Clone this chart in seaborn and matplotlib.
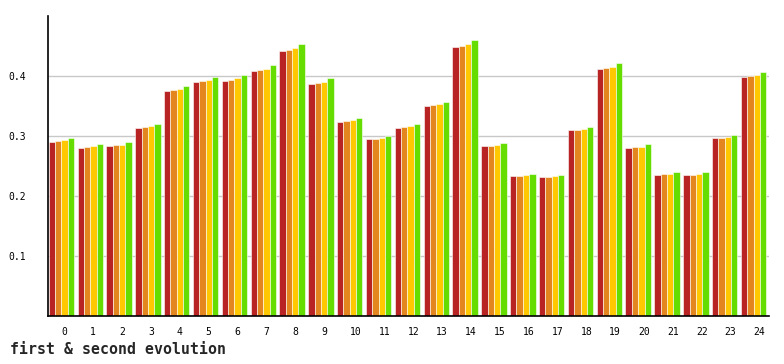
import numpy as np
import pandas as pd
import matplotlib
matplotlib.use("Agg")
import matplotlib.pyplot as plt
import seaborn as sns

# values, four runs per step
steps = [str(i) for i in range(25)]
run_a = [0.290, 0.280, 0.283, 0.313, 0.375, 0.390, 0.392, 0.408, 0.442, 0.387,
         0.323, 0.295, 0.313, 0.350, 0.448, 0.283, 0.233, 0.232, 0.310, 0.412,
         0.280, 0.235, 0.235, 0.297, 0.398]
run_b = [0.292, 0.282, 0.285, 0.315, 0.377, 0.392, 0.393, 0.410, 0.443, 0.388,
         0.325, 0.295, 0.315, 0.352, 0.450, 0.283, 0.233, 0.232, 0.310, 0.413,
         0.282, 0.237, 0.235, 0.297, 0.400]
run_c = [0.293, 0.283, 0.285, 0.317, 0.378, 0.393, 0.397, 0.412, 0.447, 0.390,
         0.327, 0.297, 0.317, 0.353, 0.453, 0.285, 0.235, 0.233, 0.312, 0.415,
         0.282, 0.237, 0.237, 0.298, 0.402]
run_d = [0.297, 0.287, 0.290, 0.320, 0.383, 0.398, 0.402, 0.418, 0.453, 0.397,
         0.330, 0.300, 0.320, 0.357, 0.460, 0.288, 0.237, 0.235, 0.315, 0.422,
         0.287, 0.240, 0.240, 0.302, 0.407]
runs = ["a", "b", "c", "d"]
colors = ["#b82424", "#e3861f", "#ffc800", "#66dd00"]
y_ticks = [0.1, 0.2, 0.3, 0.4]

df = pd.DataFrame({
    "step": steps * 4,
    "value": run_a + run_b + run_c + run_d,
    "run": np.repeat(runs, len(steps)),
})

sns.set_style("white")
plt.rcParams["font.family"] = ["DejaVu Sans Mono"]

fig = plt.figure(figsize=(7.84, 3.64), dpi=100)
ax = fig.add_axes([48 / 784, 48 / 364, 721 / 784, 300 / 364])

sns.barplot(data=df, x="step", y="value", hue="run", palette=colors,
            width=0.88, saturation=1, legend=False, ax=ax,
            edgecolor="white", linewidth=0.4)

ax.set_ylim(0, 0.5)
ax.set_xlim(-0.464, 24.536)
ax.set_yticks(y_ticks)
ax.set_yticklabels([f"{t:.1f}" for t in y_ticks], fontsize=7)
ax.set_xticks(range(len(steps)))
ax.set_xticklabels(steps, fontsize=7, ha="left")
ax.tick_params(axis="both", length=0, colors="black")
ax.tick_params(axis="y", pad=16)
ax.tick_params(axis="x", pad=8)
ax.set_xlabel("")
ax.set_ylabel("")
ax.grid(axis="y", color="#c8c8c8", linewidth=1)
ax.set_axisbelow(True)
for side in ["top", "right"]:
    ax.spines[side].set_visible(False)
for side in ["left", "bottom"]:
    ax.spines[side].set_color("black")
    ax.spines[side].set_linewidth(1.2)

fig.text(10 / 784, 1 - 349 / 364, "first & second evolution", fontsize=10.7,
         fontweight="bold", va="center", ha="left")

fig.savefig("out.png", dpi=100)
